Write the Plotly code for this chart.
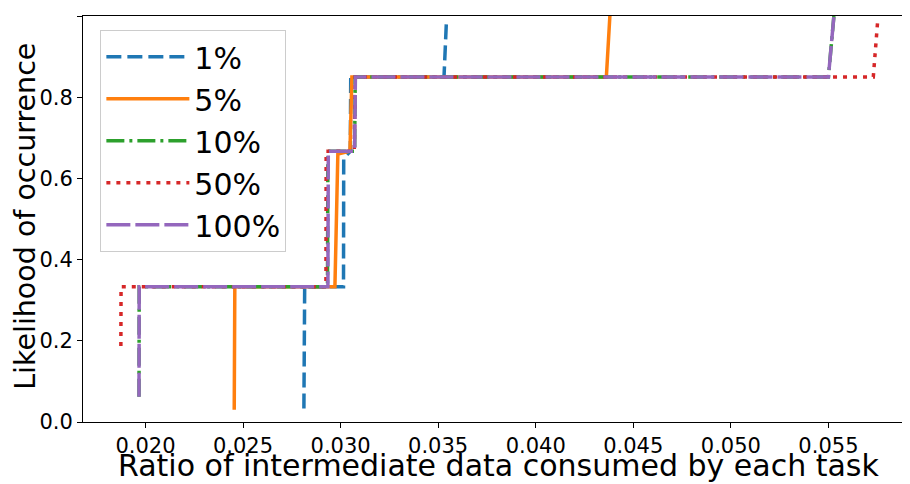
import plotly.graph_objects as go

# Series data (ratio of intermediate data consumed, likelihood)
labels = ["1%", "5%", "10%", "50%", "100%"]

x_1 = [0.02812, 0.02816, 0.03015, 0.03016, 0.03050, 0.03052, 0.03530, 0.03542]
y_1 = [0.033, 0.333, 0.333, 0.650, 0.667, 0.850, 0.850, 0.983]

x_5 = [0.02455, 0.02458, 0.02971, 0.02986, 0.03048, 0.03058, 0.04362, 0.04380]
y_5 = [0.030, 0.333, 0.333, 0.660, 0.667, 0.850, 0.850, 1.000]

x_10 = [0.01967, 0.01968, 0.02933, 0.02935, 0.03072, 0.03075, 0.05500, 0.05528]
y_10 = [0.062, 0.333, 0.333, 0.667, 0.667, 0.850, 0.850, 1.000]

x_50 = [0.01874, 0.01875, 0.02925, 0.02926, 0.03070, 0.03075, 0.05730, 0.05752]
y_50 = [0.187, 0.333, 0.333, 0.667, 0.667, 0.850, 0.850, 0.986]

x_100 = [0.01967, 0.01968, 0.02935, 0.02937, 0.03072, 0.03076, 0.05500, 0.05528]
y_100 = [0.062, 0.333, 0.333, 0.667, 0.667, 0.850, 0.850, 1.000]

xs = [x_1, x_5, x_10, x_50, x_100]
ys = [y_1, y_5, y_10, y_50, y_100]
colors = ["#1f77b4", "#ff7f0e", "#2ca02c", "#d62728", "#9467bd"]
dashes = ["15px,6px", "solid", "18px,5px,3px,5px", "4px,6px", "24px,5px"]

x_ticks = [0.020, 0.025, 0.030, 0.035, 0.040, 0.045, 0.050, 0.055]
y_ticks = [0.0, 0.2, 0.4, 0.6, 0.8, 1.0]

x_title = "Ratio of intermediate data consumed by each task"
y_title = "Likelihood of occurrence"

FONT = "DejaVu Sans"

fig = go.Figure()
for lab, x, y, c, d in zip(labels, xs, ys, colors, dashes):
    fig.add_trace(go.Scatter(x=x, y=y, mode="lines", name=lab,
                             line=dict(color=c, width=3.5, dash=d)))

fig.update_layout(
    width=910, height=484,
    margin=dict(l=75, r=8, t=8, b=70),
    paper_bgcolor="white", plot_bgcolor="white",
    font=dict(family=FONT, color="black"),
    legend=dict(
        x=0.021, y=0.966, xanchor="left", yanchor="top",
        font=dict(size=30, family=FONT),
        bgcolor="rgba(255,255,255,0.8)", bordercolor="#cccccc", borderwidth=1,
        itemwidth=83, tracegroupgap=0,
    ),
    xaxis=dict(
        range=[0.0168, 0.05918], tickvals=x_ticks, tickformat=".3f",
        showgrid=False, zeroline=False, automargin=False,
        showline=True, linecolor="black", linewidth=1, mirror=True,
        ticks="outside", ticklen=5, tickcolor="black",
        tickfont=dict(size=21, family=FONT),
    ),
    yaxis=dict(
        range=[0, 1], tickvals=y_ticks, tickformat=".1f",
        showgrid=False, zeroline=False, automargin=False,
        showline=True, linecolor="black", linewidth=1,
        ticks="outside", ticklen=5, tickcolor="black",
        tickfont=dict(size=21, family=FONT),
    ),
    annotations=[
        dict(text=x_title, xref="paper", yref="paper", x=0.503, y=-0.108,
             xanchor="center", yanchor="middle", showarrow=False,
             font=dict(size=30, family=FONT)),
        dict(text=y_title, xref="paper", yref="paper", x=-0.0705, y=0.507,
             xanchor="center", yanchor="middle", showarrow=False, textangle=-90,
             font=dict(size=28.5, family=FONT)),
    ],
)

fig.write_html("out.html")
